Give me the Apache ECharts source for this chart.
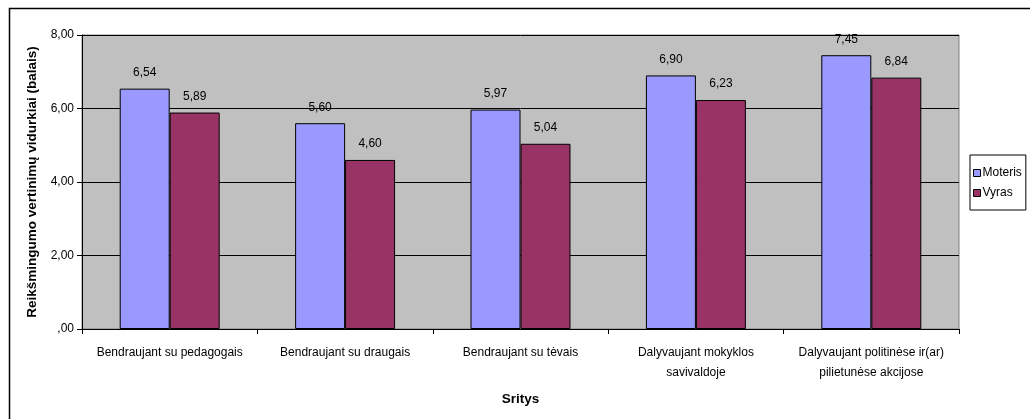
<!DOCTYPE html>
<html><head><meta charset="utf-8">
<script src="https://cdn.jsdelivr.net/npm/echarts@6/dist/echarts.min.js"></script>
<style>html,body{margin:0;padding:0;background:#fff}#c{width:1030px;height:419px}</style>
</head><body><div id="c"></div>
<script>
const categories = ["Bendraujant su pedagogais","Bendraujant su draugais","Bendraujant su tėvais","Dalyvaujant mokyklos\nsavivaldoje","Dalyvaujant politinėse ir(ar)\npilietunėse akcijose"];
const moteris = [6.54, 5.60, 5.97, 6.90, 7.45];
const vyras = [5.89, 4.60, 5.04, 6.23, 6.84];
const yTicks = [0, 2, 4, 6, 8];
const fmt = v => (v === 0 ? ",00" : v.toFixed(2).replace(".", ","));
const FONT = "Liberation Sans, Arial, sans-serif";
const chart = echarts.init(document.getElementById('c'), null, {renderer:'canvas'});
chart.setOption({
  animation:false,
  textStyle:{fontFamily:FONT},
  graphic:[
    {type:'rect', shape:{x:9.5,y:8.5,width:1100,height:500}, style:{fill:null, stroke:'#000', lineWidth:1.5}, z:-10},
    {type:'rect', shape:{x:82,y:35,width:877,height:294}, style:{fill:'#C0C0C0', stroke:'#808080', lineWidth:1}, z:-5}
  ],
  grid:{left:82, top:35, right:71, bottom:90, containLabel:false},
  legend:{
    orient:'vertical', left:970, top:155, padding:[12,4,11,3],
    borderColor:'#000', borderWidth:1, itemGap:8,
    icon:'rect', itemWidth:7, itemHeight:7,
    itemStyle:{borderColor:'#000', borderWidth:1},
    textStyle:{fontFamily:FONT, fontSize:12, color:'#000', padding:[0,0,0,-3]},
    data:['Moteris','Vyras']
  },
  xAxis:{
    type:'category', data:categories,
    name:'Sritys', nameLocation:'middle', nameGap:63,
    nameTextStyle:{fontFamily:FONT, fontWeight:'bold', fontSize:13.5, color:'#000'},
    axisLine:{lineStyle:{color:'#000', width:1}},
    axisTick:{show:true, alignWithLabel:false, length:5, lineStyle:{color:'#000'}},
    axisLabel:{fontFamily:FONT, fontSize:12, color:'#000', margin:14, lineHeight:20, interval:0}
  },
  yAxis:{
    type:'value', min:0, max:8, interval:2,
    name:'Reikšmingumo vertinimų vidurkiai (balais)', nameLocation:'middle', nameGap:42, nameRotate:90,
    nameTextStyle:{fontFamily:FONT, fontWeight:'bold', fontSize:13.5, color:'#000'},
    axisLine:{show:true, lineStyle:{color:'#000', width:1}},
    axisTick:{show:true, length:5, lineStyle:{color:'#000'}},
    axisLabel:{fontFamily:FONT, fontSize:12, color:'#000', margin:8, formatter:v => fmt(v)},
    splitLine:{show:true, lineStyle:{color:'#000', width:1}}
  },
  series:[
    {name:'Moteris', type:'bar', data:moteris, barGap:'0%', barCategoryGap:'43%',
     itemStyle:{color:'#9999FF', borderColor:'#000', borderWidth:1},
     label:{show:true, position:'top', distance:10, fontFamily:FONT, fontSize:12, color:'#000', formatter:p=>fmt(p.value)}},
    {name:'Vyras', type:'bar', data:vyras, barGap:'0%', barCategoryGap:'43%',
     itemStyle:{color:'#993366', borderColor:'#000', borderWidth:1},
     label:{show:true, position:'top', distance:10, fontFamily:FONT, fontSize:12, color:'#000', formatter:p=>fmt(p.value)}}
  ]
});
</script></body></html>
